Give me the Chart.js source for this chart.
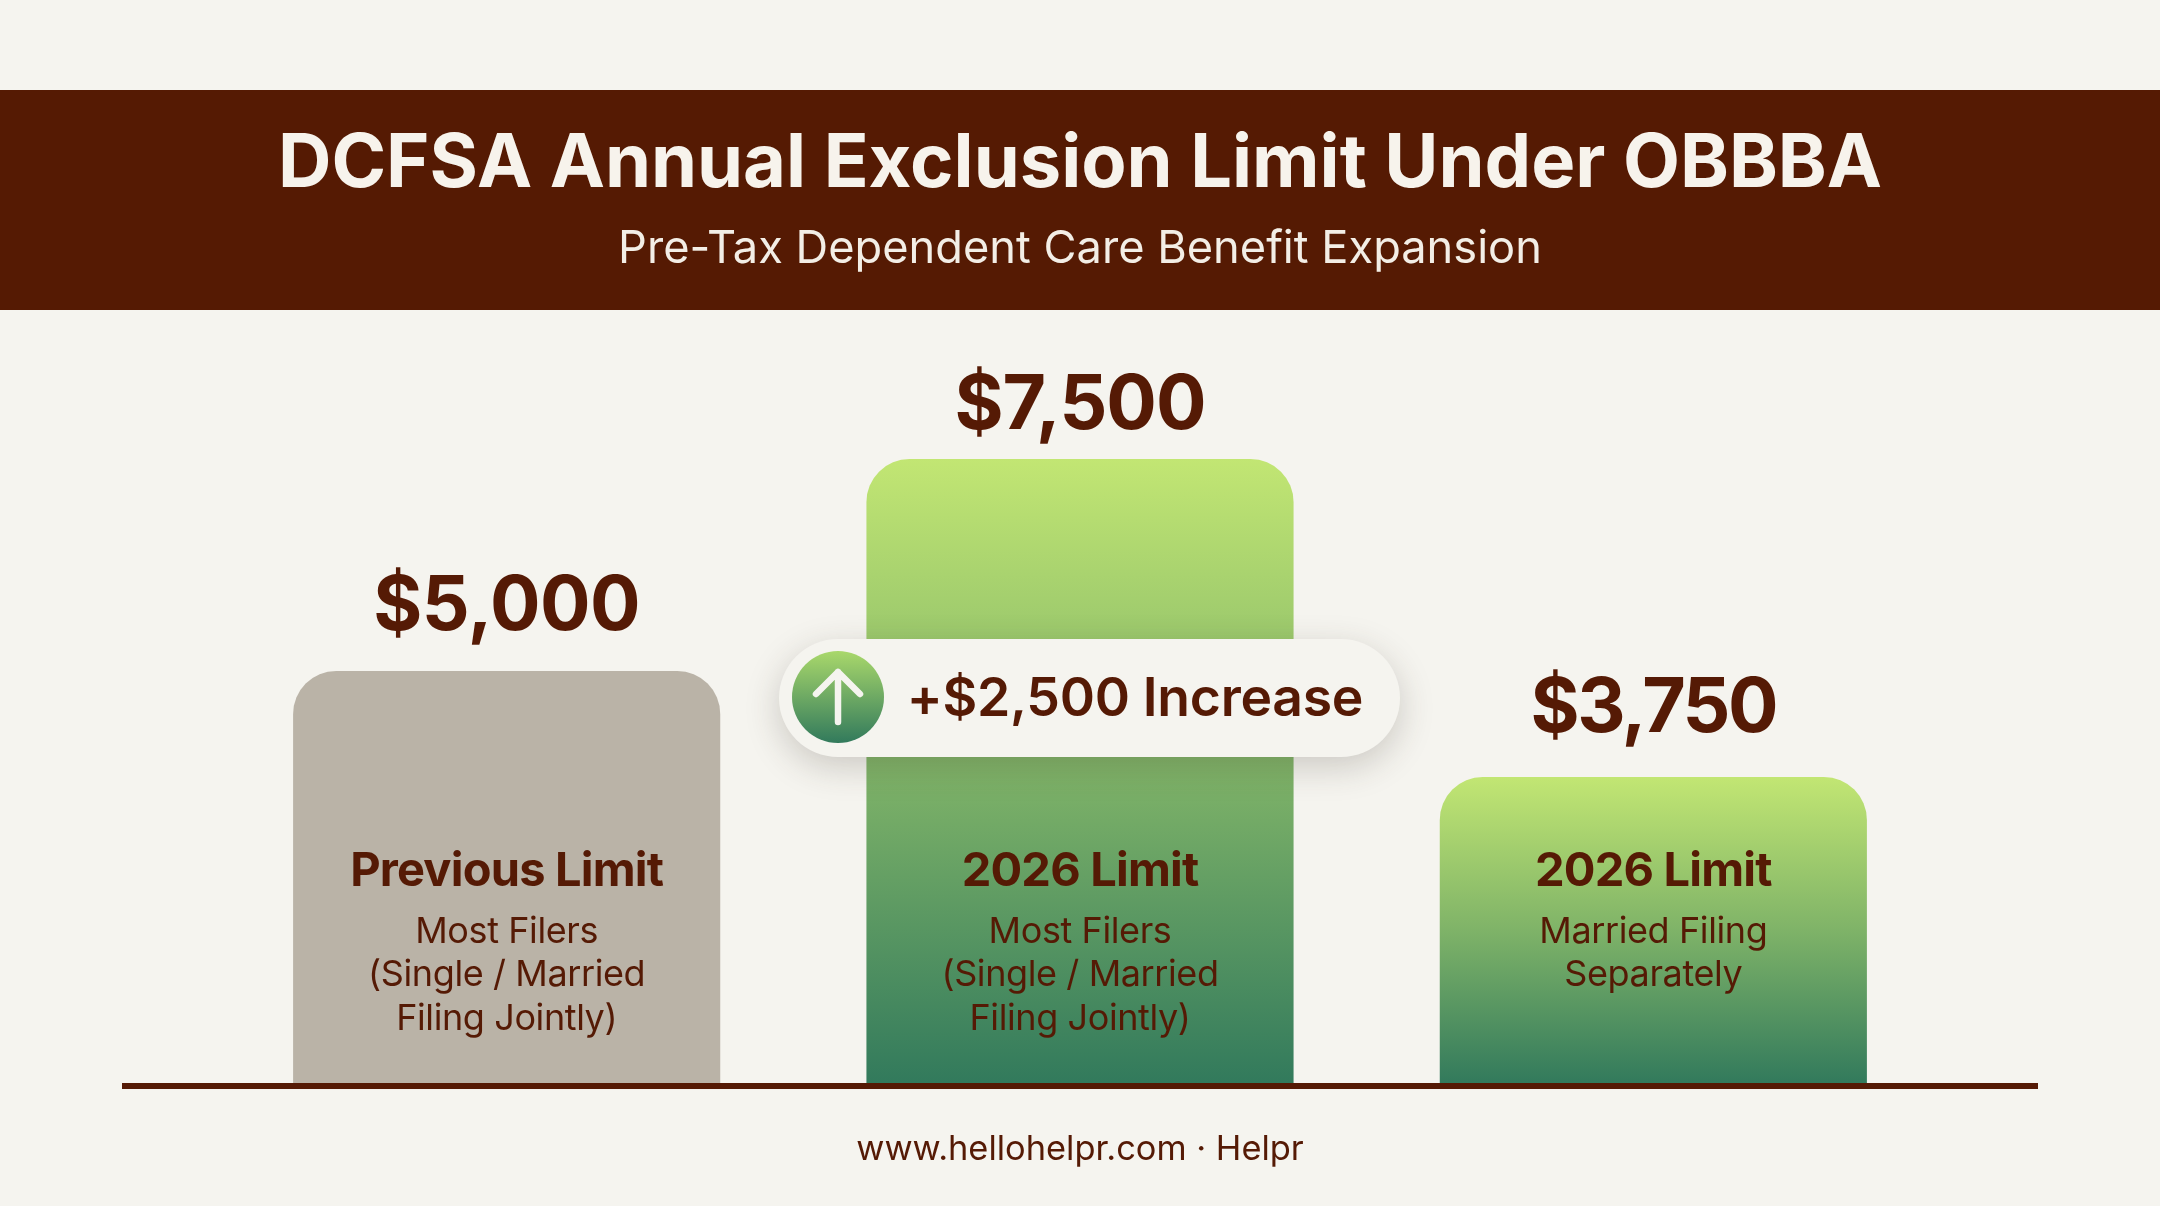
<!DOCTYPE html>
<html><head><meta charset="utf-8">
<style>html,body{margin:0;padding:0;background:#F5F4EF;overflow:hidden}canvas{display:block}</style>
<script src="https://cdn.jsdelivr.net/npm/chart.js@4"></script>
</head><body><canvas id="c" width="2160" height="1206"></canvas>
<script>
const categories = ["Previous Limit", "2026 Limit", "2026 Limit"];
const limitValues = [5000, 7500, 3750];
const valueLabels = ["$5,000", "$7,500", "$3,750"];
const barDetails = [
  ["Most Filers", "(Single / Married", "Filing Jointly)"],
  ["Most Filers", "(Single / Married", "Filing Jointly)"],
  ["Married Filing", "Separately"]
];
const titleText = "DCFSA Annual Exclusion Limit Under OBBBA";
const subtitleText = "Pre-Tax Dependent Care Benefit Expansion";
const increaseText = "+$2,500 Increase";
const footerText = "www.hellohelpr.com \u00B7 Helpr";

const INK = "#551A05", BG = "#F5F4EF", BAND = "#551A03";
const FF = "Inter, 'Noto Sans', sans-serif";

function barFill(ctx) {
  const chart = ctx.chart;
  if (ctx.type !== "data" || !chart.chartArea) return "#BAB3A7";
  if (ctx.dataIndex === 0) return "#BAB3A7";
  const y = chart.scales.y;
  const g = chart.ctx.createLinearGradient(0, y.getPixelForValue(limitValues[ctx.dataIndex]), 0, y.bottom);
  g.addColorStop(0, "#C2E673");
  g.addColorStop(0.5, "#7FB368");
  g.addColorStop(1, "#327A5C");
  return g;
}

function text(ctx, s, x, y, font, color, spacing) {
  ctx.font = font; ctx.fillStyle = color;
  ctx.textAlign = "center"; ctx.textBaseline = "middle";
  ctx.letterSpacing = (spacing || 0) + "px";
  ctx.fillText(s, x, y);
  ctx.letterSpacing = "0px";
}

const decor = {
  id: "decor",
  beforeDraw(chart) {
    const c = chart.ctx;
    c.save();
    c.fillStyle = BG; c.fillRect(0, 0, chart.width, chart.height);
    c.fillStyle = BAND; c.fillRect(0, 90, chart.width, 220);
    c.restore();
  },
  afterDatasetsDraw(chart) {
    const c = chart.ctx, meta = chart.getDatasetMeta(0), base = chart.scales.y.bottom;
    c.save();
    // baseline
    c.fillStyle = INK; c.fillRect(122, base, 1916, 6);
    const valueGap = [64, 53, 68];
    const valueSpacing = [-0.5, -1, -2.5];
    meta.data.forEach((bar, i) => {
      text(c, valueLabels[i], bar.x, bar.y - valueGap[i], "700 75px " + FF, INK, valueSpacing[i]);
      text(c, categories[i], bar.x, 872, "700 47px " + FF, INK, -0.8);
      barDetails[i].forEach((line, k) => {
        text(c, line, bar.x, 932 + k * 43.5, "400 36px " + FF, INK, -0.4);
      });
    });
    // increase pill
    const mid = meta.data[1].x, L = mid - 301, R = mid + 320, T = 639, B = 757;
    c.save();
    c.shadowColor = "rgba(60,50,40,0.22)"; c.shadowBlur = 34; c.shadowOffsetY = 10;
    c.fillStyle = BG;
    c.beginPath(); c.roundRect(L, T, R - L, B - T, (B - T) / 2); c.fill();
    c.restore();
    const cx = mid - 242, cy = 697, r = 46;
    const g = c.createLinearGradient(0, cy - r, 0, cy + r);
    g.addColorStop(0, "#A9D86B"); g.addColorStop(1, "#327A5C");
    c.fillStyle = g; c.beginPath(); c.arc(cx, cy, r, 0, Math.PI * 2); c.fill();
    c.strokeStyle = "#F5F4EF"; c.lineWidth = 6.5; c.lineCap = "round"; c.lineJoin = "round";
    c.beginPath();
    c.moveTo(cx, cy + 25); c.lineTo(cx, cy - 25);
    c.moveTo(cx - 22, cy - 3); c.lineTo(cx, cy - 25); c.lineTo(cx + 22, cy - 3);
    c.stroke();
    text(c, increaseText, 1135, 700, "600 53.5px " + FF, INK, -0.3);
    // footer
    text(c, footerText, chart.width / 2, 1150, "400 34.4px " + FF, INK, 0);
    c.restore();
  }
};

new Chart(document.getElementById("c"), {
  type: "bar",
  data: {
    labels: categories,
    datasets: [{
      data: limitValues,
      backgroundColor: barFill,
      barPercentage: 0.745,
      categoryPercentage: 1,
      borderSkipped: "bottom",
      borderRadius: { topLeft: 43, topRight: 43, bottomLeft: 0, bottomRight: 0 }
    }]
  },
  options: {
    responsive: false,
    animation: false,
    devicePixelRatio: 1,
    layout: { padding: { left: 220, right: 220, top: 0, bottom: 123 } },
    scales: {
      x: { display: false },
      y: { display: false, min: 140, max: 9256 }
    },
    plugins: {
      legend: { display: false },
      tooltip: { enabled: false },
      title: {
        display: true, text: titleText, color: "#F7F3EC",
        font: { family: FF, size: 74, weight: "700", lineHeight: 1 },
        padding: { top: 128, bottom: 0 }
      },
      subtitle: {
        display: true, text: subtitleText, color: "#F3EEE6",
        font: { family: FF, size: 45.2, weight: "400", lineHeight: 1 },
        padding: { top: 25, bottom: 38 }
      }
    }
  },
  plugins: [decor]
});
</script></body></html>
